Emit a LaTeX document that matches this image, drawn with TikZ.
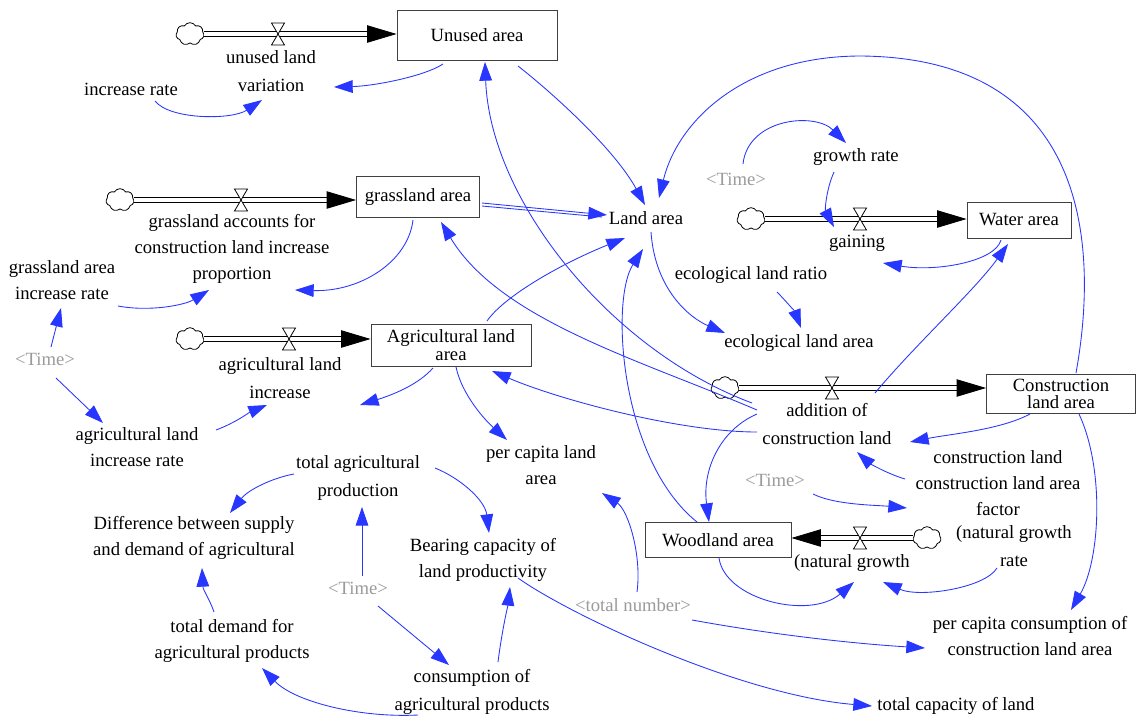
\documentclass[tikz,border=0pt]{standalone}
\usepackage{fontspec}
\setmainfont{Liberation Serif}
\usetikzlibrary{arrows.meta,shapes.symbols,calc}
\definecolor{cblue}{RGB}{40,55,255}
\definecolor{tgray}{RGB}{155,155,155}
\begin{document}
\begin{tikzpicture}[x=0.75pt,y=-0.75pt,
  font=\fontsize{14pt}{19.5pt}\selectfont,
  var/.style={align=center,inner sep=2pt},
  shv/.style={align=center,inner sep=2pt,text=tgray},
  stock/.style={draw=black!75,line width=0.65pt,fill=white,align=center,inner sep=0pt,
    font=\fontsize{14pt}{14pt}\selectfont},
  conn/.style={draw=cblue,line width=0.65pt,-{Triangle[length=14pt,width=9.5pt]},cblue},
  pipe/.style={draw=black,double=white,double distance=3pt,line width=0.6pt,
    -{Triangle[length=22pt,width=13pt]}},
  cloudn/.style={cloud,cloud puffs=7,cloud puff arc=120,draw,line width=0.6pt,fill=white,
    minimum width=21pt,minimum height=17pt,inner sep=0pt,aspect=1.15},
  valve/.pic={\draw[line width=0.6pt,fill=white] (-6.5,-11)--(6.5,-11)--(-6.5,11)--(6.5,11)--cycle;}
]
\useasboundingbox (0,0) rectangle (1140,718);
\fill[white] (0,0) rectangle (1140,718);

% ---------- stocks ----------
\node[stock,minimum width=120pt,minimum height=37.5pt] (unused) at (477,35) {Unused area};
\node[stock,minimum width=92.25pt,minimum height=30.75pt] (grass) at (418,197) {grassland area};
\node[stock,minimum width=120pt,minimum height=31.5pt] (ag) at (451,345) {Agricultural land\\area};
\node[stock,minimum width=78pt,minimum height=27pt] (water) at (1019,220) {Water area};
\node[stock,minimum width=111.75pt,minimum height=29.25pt,font=\fontsize{14pt}{12.5pt}\selectfont] (cbox) at (1061,394) {Construction\\land area};
\node[stock,minimum width=109.5pt,minimum height=26.25pt] (wood) at (718,540) {Woodland area};

% ---------- clouds ----------
\node[cloudn] (cl1) at (190,34) {};
\node[cloudn] (cl2) at (120,200) {};
\node[cloudn] (cl3) at (190,339) {};
\node[cloudn] (cl4) at (751,219) {};
\node[cloudn] (cl5) at (725,388) {};
\node[cloudn] (cl6) at (927,538) {};

% ---------- pipes ----------
\draw[pipe] (cl1.east) -- (cl1.east -| unused.west);
\draw[pipe] (cl2.east) -- (cl2.east -| grass.west);
\draw[pipe] (cl3.east) -- (cl3.east -| ag.west);
\draw[pipe] (cl4.east) -- (cl4.east -| water.west);
\draw[pipe] (cl5.east) -- (cl5.east -| cbox.west);
\draw[pipe] (cl6.west) -- (cl6.west -| wood.east);

\pic at (278,34) {valve};
\pic at (241,200) {valve};
\pic at (289,339) {valve};
\pic at (860,219) {valve};
\pic at (832,388) {valve};
\pic at (860,538) {valve};

% ---------- variables ----------
\node[var] (uvar) at (271,71) {unused land\\[2pt]variation};
\node[var] (incr) at (131,89) {increase rate};
\node[var] (gacc) at (232,249) {grassland accounts for\\construction land increase\\proportion};
\node[var] (gair) at (62,280) {grassland area\\increase rate};
\node[shv] (t1) at (45,359) {\textless Time\textgreater};
\node[var] (aginc) at (280,378) {agricultural land\\[2pt]increase};
\node[var] (agir) at (137,447) {agricultural land\\increase rate};
\node[var] (land) at (646,218) {Land area};
\node[var] (gain) at (857,243) {gaining};
\node[var] (grow) at (856,157) {growth rate};
\node[shv] (t2) at (736,179) {\textless Time\textgreater};
\node[var] (erat) at (751,275) {ecological land ratio};
\node[var] (earea) at (799,343) {ecological land area};
\node[var] (addc) at (827,424) {addition of\\[1.5pt]construction land};
\node[var] (cfac) at (998,483) {construction land\\construction land area\\factor};
\node[var] (ngr) at (1014,546) {(natural growth\\[1pt]rate};
\node[shv] (t3) at (775,480) {\textless Time\textgreater};
\node[var] (ngrow) at (852,563) {(natural growth};
\node[var] (pcl) at (541,465) {per capita land\\area};
\node[var] (bear) at (483,560) {Bearing capacity of\\land productivity};
\node[var] (tap) at (358,478) {total agricultural\\[2pt]production};
\node[var] (diff) at (194,538) {Difference between supply\\and demand of agricultural};
\node[shv] (t4) at (358,588) {\textless Time\textgreater};
\node[var] (tdem) at (232,641) {total demand for\\agricultural products};
\node[var] (cons) at (472,692) {consumption of\\[2pt]agricultural products};
\node[shv] (tn) at (633,605) {\textless total number\textgreater};
\node[var] (pcc) at (1030,636) {per capita consumption of\\construction land area};
\node[var] (tcap) at (956,706) {total capacity of land};

% ---------- connectors ----------
\draw[conn] ($(unused)+(-34,29)$) .. controls (425,76) and (375,86) .. ($(uvar)+(63,16)$);
\draw[conn] ($(incr)+(24,12)$) .. controls (170,120) and (232,120) .. ($(uvar)+(-9,29)$);
\draw[conn] ($(grass)+(64,6)$) -- ($(land)+(-39,-3)$);
\draw[draw=cblue,line width=0.65pt] ($(grass)+(64,9)$) -- ($(land)+(-44,-1)$);
\draw[conn] ($(unused)+(41,31)$) .. controls (555,95) and (615,150) .. ($(land)+(-1,-13)$);
\draw[conn] ($(cbox)+(15,-21)$) .. controls (1100,240) and (1085,58) .. (861,56)
   .. controls (745,56) and (678,120) .. ($(land)+(13,-20)$);
\draw[conn] ($(ag)+(36,-24)$) .. controls (505,295) and (565,262) .. ($(land)+(-21,20)$);
\draw[conn] ($(wood)+(-21,-18)$) .. controls (620,460) and (610,300) .. ($(land)+(-3,31)$);
\draw[conn] ($(addc)+(-75,-21)$) .. controls (610,350) and (490,200) .. ($(unused)+(8,27)$);
\draw[conn] ($(addc)+(-70,-14)$) .. controls (640,360) and (500,320) .. ($(grass)+(23,25)$);
\draw[conn] ($(addc)+(-70,8)$) .. controls (680,432) and (560,400) .. ($(ag)+(41,26)$);
\draw[conn] ($(addc)+(-70,-10)$) .. controls (720,430) and (702,470) .. ($(wood)+(-9,-18)$);
\draw[conn] ($(addc)+(48,-31)$) .. controls (915,345) and (975,290) .. ($(water)+(-11,24)$);
\draw[conn] ($(t2)+(7,-15)$) .. controls (748,118) and (815,112) .. ($(grow)+(-10,-14)$);
\draw[conn] ($(grow)+(-22,15)$) .. controls (826,190) and (825,210) .. ($(gain)+(-23,-16)$);
\draw[conn] ($(water)+(-18,20)$) .. controls (995,262) and (935,272) .. ($(gain)+(26,20)$);
\draw[conn] ($(land)+(5,14)$) .. controls (655,290) and (690,318) .. ($(earea)+(-74,-10)$);
\draw[conn] ($(erat)+(26,17)$) .. controls (785,300) and (795,312) .. ($(earea)+(2,-15)$);
\draw[conn] ($(cbox)+(-31,20)$) .. controls (1000,430) and (950,434) .. ($(addc)+(83,18)$);
\draw[conn] ($(cfac)+(-93,-4)$) .. controls (885,473) and (868,462) .. ($(addc)+(30,28)$);
\draw[conn] ($(t3)+(38,14)$) .. controls (835,505) and (875,505) .. ($(cfac)+(-91,25)$);
\draw[conn] ($(cbox)+(18,20)$) .. controls (1105,470) and (1100,560) .. ($(pcc)+(41,-26)$);
\draw[conn] ($(wood)+(1,18)$) .. controls (725,600) and (810,620) .. ($(ngrow)+(2,19)$);
\draw[conn] ($(ngr)+(-17,22)$) .. controls (985,588) and (920,598) .. ($(ngrow)+(31,19)$);
\draw[conn] ($(tn)+(4,-13)$) .. controls (642,555) and (628,510) .. ($(pcl)+(61,28)$);
\draw[conn] ($(tn)+(59,15)$) .. controls (780,636) and (860,644) .. ($(pcc)+(-105,12)$);
\draw[conn] ($(bear)+(35,18)$) .. controls (570,615) and (740,695) .. ($(tcap)+(-84,0)$);
\draw[conn] ($(tap)+(-64,-4)$) .. controls (272,478) and (248,490) .. ($(diff)+(36,-25)$);
\draw[conn] ($(tap)+(77,-10)$) .. controls (460,478) and (485,500) .. ($(bear)+(6,-27)$);
\draw[conn] ($(t4)+(4,-12)$) -- ($(tap)+(4,29)$);
\draw[conn] ($(t4)+(20,18)$) -- ($(cons)+(-23,-27)$);
\draw[conn] ($(cons)+(26,-30)$) .. controls (502,630) and (508,605) .. ($(bear)+(27,27)$);
\draw[conn] ($(tdem)+(-18,-29)$) .. controls (210,600) and (203,590) .. ($(diff)+(8,30)$);
\draw[conn] ($(cons)+(-54,23)$) .. controls (360,718) and (295,702) .. ($(tdem)+(30,27)$);
\draw[conn] ($(t1)+(6,-12)$) -- ($(gair)+(-1,28)$);
\draw[conn] ($(t1)+(11,19)$) -- ($(agir)+(-34,-24)$);
\draw[conn] ($(agir)+(79,-17)$) .. controls (235,423) and (250,412) .. ($(aginc)+(-13,27)$);
\draw[conn] ($(ag)+(-18,23)$) .. controls (418,385) and (392,395) .. ($(aginc)+(80,27)$);
\draw[conn] ($(ag)+(5,22)$) .. controls (462,395) and (485,420) .. ($(pcl)+(-34,-25)$);
\draw[conn] ($(grass)+(-5,23)$) .. controls (408,262) and (360,292) .. ($(gacc)+(63,41)$);
\draw[conn] ($(gair)+(56,26)$) .. controls (150,312) and (185,305) .. ($(gacc)+(-23,41)$);
\end{tikzpicture}
\end{document}
